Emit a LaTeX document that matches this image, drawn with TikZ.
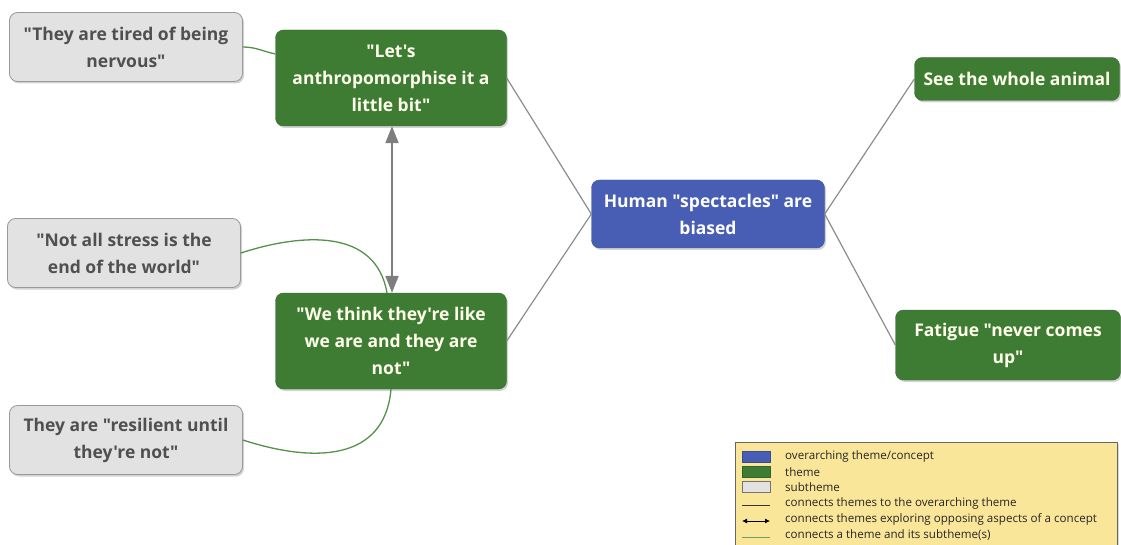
\documentclass[tikz,border=0pt]{standalone}
\usepackage{fontspec}
\setmainfont{Open Sans}[Ligatures=TeXOff]
\usepackage{tikz}
\usetikzlibrary{positioning,shadows,arrows.meta}
\definecolor{themegreen}{RGB}{62,124,52}
\definecolor{overblue}{RGB}{72,94,180}
\definecolor{subgray}{RGB}{226,226,226}
\definecolor{subtext}{RGB}{80,80,80}
\definecolor{legyellow}{RGB}{250,230,152}
\definecolor{linkgreen}{RGB}{84,146,72}
\definecolor{linkgray}{RGB}{140,140,140}
\tikzset{%
  boxnode/.style={%
    rounded corners=8pt,
    align=center,
    font=\bfseries\fontsize{17.5}{27}\selectfont,
    drop shadow={shadow xshift=1.5pt,shadow yshift=-2pt,opacity=0.35}%
  },
  subnode/.style={%
    boxnode,
    draw=black!40,
    thick,
    fill=subgray,
    text=subtext,
    minimum width=233pt,
    minimum height=69pt%
  },
  thnode/.style={%
    boxnode,
    draw=themegreen!85!black,
    fill=themegreen,
    text=white!92!yellow,
    minimum width=231pt,
    minimum height=96pt%
  },
  ovnode/.style={%
    boxnode,
    draw=overblue!85!black,
    fill=overblue,
    text=white,
    minimum width=233pt,
    minimum height=68pt%
  },
  themelink/.style={%
    draw=linkgray,
    line width=1.2pt
  },
  sublink/.style={%
    draw=linkgreen,
    line width=1.3pt
  },
  legtext/.style={%
    anchor=west,
    inner sep=0pt,
    text=black!85,
    font=\fontsize{11.6}{13}\selectfont
  }
}
\begin{document}
\begin{tikzpicture}[x=1pt,y=-1pt]
      \useasboundingbox (0,0) rectangle (1121,545);

      \node[ovnode]                      (hum)   at (708,214)  {Human "spectacles" are\\biased};
      \node[thnode]                      (anth)  at (391,78)   {"Let's\\anthropomorphise it a\\little bit"};
      \node[thnode]                      (think) at (391,341)  {"We think they're like\\we are and they are\\not"};
      \node[thnode, minimum width=205pt,
            minimum height=43pt]         (whole) at (1017,79)  {See the whole animal};
      \node[thnode, minimum width=225pt,
            minimum height=70pt]         (fat)   at (1008,345) {Fatigue "never comes\\up"};

      \node[subnode] (nerv)   at (126,47)  {"They are tired of being\\nervous"};
      \node[subnode] (stress) at (124,253) {"Not all stress is the\\end of the world"};
      \node[subnode] (resil)  at (126,440) {They are "resilient until\\they're not"};

      \path[themelink]
        (anth.east)  edge (hum.west)
        (think.east) edge (hum.west)
        (hum.east)   edge (whole.west)
        (hum.east)   edge (fat.west);

      \draw[linkgray!90!black, line width=2pt,
            {Triangle[length=17pt,width=13pt]}-{Triangle[length=17pt,width=13pt]}]
        ([xshift=1pt]anth.south) -- ([xshift=1pt]think.north);

      \path[sublink]
        (nerv.east)   edge[out=0,in=168] ([yshift=24pt]anth.west)
        (stress.east) edge[out=18,in=100,looseness=1.1] ([xshift=-4pt]think.north)
        (resil.east)  edge[out=-18,in=-95,looseness=1.2] (think.south);

      % legend
      \node[draw=black!60, thick, fill=legyellow, anchor=north west,
            minimum width=382pt, minimum height=130pt,
            drop shadow={shadow xshift=1.5pt,shadow yshift=-2pt,opacity=0.3}] (leg) at (735,442) {};
      \node[draw=overblue!80!black, fill=overblue, minimum width=28pt, minimum height=11pt,
            inner sep=0pt] (swblue) at (756,457) {};
      \node[draw=themegreen!80!black, fill=themegreen, minimum width=28pt, minimum height=11pt,
            inner sep=0pt] (swgreen) at (756,472) {};
      \node[draw=black!55, fill=subgray, minimum width=28pt, minimum height=11pt,
            inner sep=0pt] (swgray) at (756,487) {};
      \coordinate (la1) at (742,505);
      \coordinate (la2) at (770,505);
      \coordinate (lb1) at (742,521);
      \coordinate (lb2) at (770,521);
      \coordinate (lc1) at (742,537);
      \coordinate (lc2) at (770,537);
      \draw[black!80, thick] (la1) -- (la2);
      \draw[black, thick, {Latex[length=5pt,width=5pt]}-{Latex[length=5pt,width=5pt]}] (lb1) -- (lb2);
      \draw[linkgreen!85!white, thick] (lc1) -- (lc2);

      \node[legtext] (t1) at (785,456) {overarching theme/concept};
      \node[legtext] (t2) at (785,472) {theme};
      \node[legtext] (t3) at (785,487) {subtheme};
      \node[legtext] (t4) at (785,503) {connects themes to the overarching theme};
      \node[legtext] (t5) at (785,519) {connects themes exploring opposing aspects of a concept};
      \node[legtext] (t6) at (785,535) {connects a theme and its subtheme(s)};
\end{tikzpicture}
\end{document}
